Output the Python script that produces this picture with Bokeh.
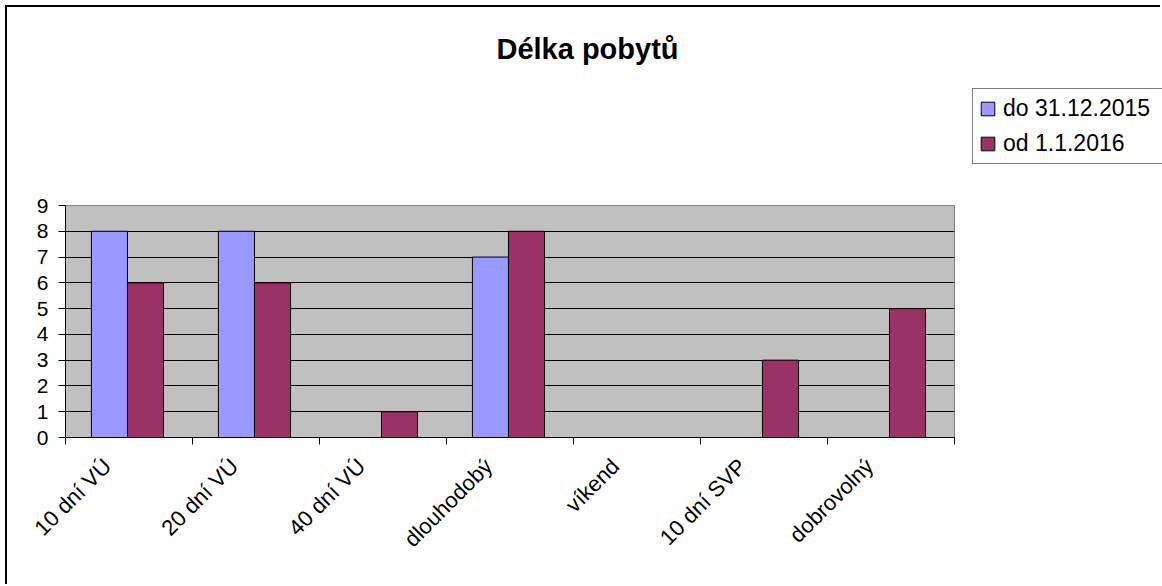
import math
from bokeh.plotting import figure
from bokeh.models import FixedTicker, Legend, LegendItem, Label, Range1d
from bokeh.embed import file_html
from bokeh.resources import INLINE

# ---- data ----
categories = ["10 dní VÚ", "20 dní VÚ", "40 dní VÚ", "dlouhodobý", "víkend", "10 dní SVP", "dobrovolný"]
series_names = ["do 31.12.2015", "od 1.1.2016"]
values_2015 = [8, 8, 0, 7, 0, 0, 0]
values_2016 = [6, 6, 1, 8, 0, 3, 5]
y_ticks = [0, 1, 2, 3, 4, 5, 6, 7, 8, 9]
title_text = "Délka pobytů"

FONT = "Liberation Sans"
BLUE = "#9999FF"
MAROON = "#993366"
BAR_W = 0.284
GROUP_OFFSET = -0.012
LABEL_SHIFT = 0.17

# ---------- main chart ----------
n = len(categories)
p = figure(width=1155, height=579,
           x_range=Range1d(0, n), y_range=Range1d(y_ticks[0], y_ticks[-1]),
           output_backend="svg", toolbar_location=None, title=None,
           min_border_left=58, min_border_right=208, min_border_top=198, min_border_bottom=149,
           background_fill_color="#C0C0C0", border_fill_color="white",
           outline_line_color="#808080", outline_line_width=1)
p.styles = {"margin-left": "5px", "margin-top": "5px",
            "border-left": "2px solid black", "border-top": "2px solid black"}

centers = [i + 0.5 for i in range(n)]
x1 = [c + GROUP_OFFSET - BAR_W / 2 for c in centers]
x2 = [c + GROUP_OFFSET + BAR_W / 2 for c in centers]

p.vbar(x=x1, top=values_2015, width=BAR_W, fill_color=BLUE, line_color="black", line_width=1)
p.vbar(x=x2, top=values_2016, width=BAR_W, fill_color=MAROON, line_color="black", line_width=1)

# grid
p.xgrid.visible = False
p.ygrid.ticker = FixedTicker(ticks=y_ticks[1:-1])
p.ygrid.grid_line_color = "black"
p.ygrid.grid_line_width = 1

# y axis
ya = p.yaxis[0]
ya.ticker = FixedTicker(ticks=y_ticks)
ya.major_tick_out = 7
ya.major_tick_in = 0
ya.minor_tick_line_color = None
ya.axis_line_color = "black"
ya.major_tick_line_color = "black"
ya.major_label_text_font = FONT
ya.major_label_text_font_size = "21px"
ya.major_label_text_color = "black"
ya.major_label_standoff = 10

# x axis (tick marks at category boundaries, labels near category centres)
label_pos = [c - LABEL_SHIFT for c in centers]
xa = p.xaxis[0]
xa.ticker = FixedTicker(ticks=label_pos, minor_ticks=list(range(n + 1)))
xa.major_tick_out = 0
xa.major_tick_in = 0
xa.minor_tick_out = 7
xa.minor_tick_in = 0
xa.minor_tick_line_color = "black"
xa.axis_line_color = "black"
xa.major_label_overrides = {lp: cat for lp, cat in zip(label_pos, categories)}
xa.major_label_orientation = math.pi / 4
xa.major_label_text_font = FONT
xa.major_label_text_font_size = "22px"
xa.major_label_text_color = "black"
xa.major_label_standoff = 18

# ---------- header overlay: title + legend (transparent, page coordinates) ----------
HEAD_W, HEAD_H = 1162, 180
head = figure(width=HEAD_W, height=HEAD_H, x_range=Range1d(0, n), y_range=Range1d(0, 1),
              output_backend="svg", toolbar_location=None, title=None,
              x_axis_location=None, y_axis_location=None,
              min_border=0, min_border_left=0, min_border_right=0,
              min_border_top=0, min_border_bottom=0,
              background_fill_color=None, background_fill_alpha=0,
              border_fill_color=None, border_fill_alpha=0,
              outline_line_color=None)
head.grid.visible = False
head.styles = {"position": "absolute", "left": "0px", "top": "0px"}

# hidden proxies of the two series, used only for the legend swatches
lr1 = head.vbar(x=x1, top=values_2015, width=BAR_W, fill_color=BLUE, line_color="black",
                line_width=1, visible=False)
lr2 = head.vbar(x=x2, top=values_2016, width=BAR_W, fill_color=MAROON, line_color="black",
                line_width=1, visible=False)

legend = Legend(items=[LegendItem(label=series_names[0], renderers=[lr1]),
                       LegendItem(label=series_names[1], renderers=[lr2])],
                location=(972, 16), orientation="vertical",
                border_line_color="black", border_line_width=1,
                background_fill_color="white", background_fill_alpha=1,
                label_text_font=FONT, label_text_font_size="23px", label_text_color="black",
                glyph_width=17, glyph_height=17, label_height=24, label_width=168,
                label_standoff=7, padding=6, spacing=8, margin=0)
head.add_layout(legend, "center")

head.add_layout(Label(x=587, y=132, x_units="screen", y_units="screen", text=title_text,
                      text_align="center", text_baseline="middle", text_font=FONT,
                      text_font_size="29px", text_font_style="bold", text_color="black"))

open("out.html", "w").write(file_html([p, head], INLINE))
